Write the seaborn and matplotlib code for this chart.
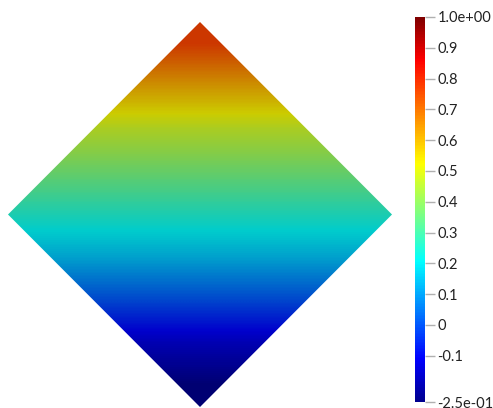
import numpy as np
import matplotlib
matplotlib.use("Agg")
import matplotlib.pyplot as plt
import seaborn as sns
from matplotlib.colors import LinearSegmentedColormap, Normalize
from matplotlib.patches import Polygon
from matplotlib.cm import ScalarMappable

# field value along the vertical axis of the diamond (bottom -> top, evenly spaced)
profile_heights = [0.0, 0.125, 0.25, 0.375, 0.5, 0.625, 0.75, 0.875, 1.0]
profile_values = [-0.25, -0.15, 0.0, 0.14, 0.25, 0.365, 0.47, 0.62, 0.77]

# diamond outline (rotated square)
diamond_x = [0.0, 1.0, 0.0, -1.0]
diamond_y = [1.0, 0.0, -1.0, 0.0]

vmin, vmax = -0.25, 1.0
tick_values = [1.0, 0.9, 0.8, 0.7, 0.6, 0.5, 0.4, 0.3, 0.2, 0.1, 0.0, -0.1, -0.25]
tick_labels = ["1.0e+00", "0.9", "0.8", "0.7", "0.6", "0.5", "0.4", "0.3",
               "0.2", "0.1", "0", "-0.1", "-2.5e-01"]

# jet colormap as used by the viewer
jet_pos = [0.0, 0.111111, 0.365079, 0.492063, 0.619048, 0.888889, 1.0]
jet_rgb = [(0, 0, 0.5625), (0, 0, 1), (0, 1, 1), (0.5, 1, 0.5),
           (1, 1, 0), (1, 0, 0), (0.5, 0, 0)]
jet = LinearSegmentedColormap.from_list("pv_jet", list(zip(jet_pos, jet_rgb)))

# surface is lit, so it looks a bit darker than the legend
shade = 0.8
jet_lit = LinearSegmentedColormap.from_list(
    "pv_jet_lit", [(p, tuple(shade * c for c in rgb)) for p, rgb in zip(jet_pos, jet_rgb)])


def main():
    sns.set_style("white")
    plt.rcParams["font.family"] = ["Lato", "DejaVu Sans"]

    fig = plt.figure(figsize=(4.93, 4.08), dpi=100)

    ax = fig.add_axes([8 / 493, 1 / 408, 384 / 493, 385 / 408])
    field = np.array(profile_values)[::-1].reshape(-1, 1).repeat(2, axis=1)
    im = ax.imshow(field, cmap=jet_lit, norm=Normalize(vmin, vmax),
                   extent=[-1, 1, -1, 1], interpolation="bilinear",
                   interpolation_stage="data", aspect="auto")
    clip = Polygon(list(zip(diamond_x, diamond_y)), closed=True,
                   transform=ax.transData, facecolor="none", edgecolor="none")
    ax.add_patch(clip)
    im.set_clip_path(clip)
    ax.set_xlim(-1, 1)
    ax.set_ylim(-1, 1)
    ax.axis("off")

    cax = fig.add_axes([415 / 493, (408 - 402) / 408, 10 / 493, 385 / 408])
    sm = ScalarMappable(norm=Normalize(vmin, vmax), cmap=jet)
    cb = fig.colorbar(sm, cax=cax)
    cb.outline.set_visible(False)
    cb.set_ticks(tick_values)
    cb.set_ticklabels(tick_labels)
    cax.tick_params(axis="y", length=7, width=1, color="#b0b0b0",
                    labelsize=10.5, labelcolor="#222222", pad=2)

    fig.savefig("out.png", dpi=100)


if __name__ == "__main__":
    main()
